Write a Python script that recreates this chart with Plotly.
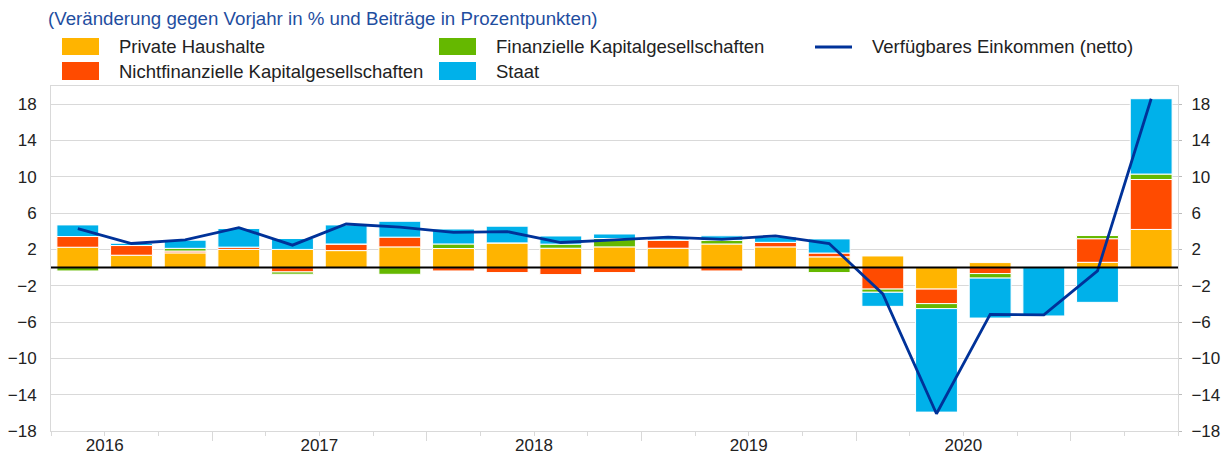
import plotly.graph_objects as go

# ---------------- data ----------------
quarters = ["2016Q2", "2016Q3", "2016Q4", "2017Q1", "2017Q2", "2017Q3", "2017Q4",
            "2018Q1", "2018Q2", "2018Q3", "2018Q4", "2019Q1", "2019Q2", "2019Q3",
            "2019Q4", "2020Q1", "2020Q2", "2020Q3", "2020Q4", "2021Q1", "2021Q2"]
years = [2016, 2017, 2018, 2019, 2020]
y_ticks = [-18, -14, -10, -6, -2, 2, 6, 10, 14, 18]

private_haushalte = [2.24, 1.36, 1.62, 2.0, 2.0, 1.87, 2.28, 2.1, 2.72, 2.13, 2.28,
                     2.13, 2.6, 2.28, 1.18, 1.28, -2.37, 0.55, 0.0, 0.58, 4.2]
nichtfin_kg = [1.18, 1.07, 0.2, 0.25, -0.48, 0.73, 1.07, -0.37, -0.55, -0.77, -0.55,
               0.9, -0.37, 0.5, 0.42, -2.37, -1.6, -0.66, 0.0, 2.6, 5.5]
finanz_kg = [-0.37, 0.0, 0.3, 0.0, -0.25, 0.0, -0.74, 0.5, 0.0, 0.45, 0.92,
             0.0, 0.4, 0.0, -0.55, -0.35, -0.55, -0.5, 0.12, 0.35, 0.6]
staat = [1.28, 0.25, 0.9, 2.05, 1.2, 2.1, 1.75, 1.65, 1.84, 0.9, 0.5,
         0.25, 0.5, 0.6, 1.56, -1.55, -11.4, -4.4, -5.33, -3.83, 8.3]
einkommen = [4.3, 2.65, 3.05, 4.4, 2.47, 4.8, 4.45, 3.88, 3.97, 2.76, 3.05,
             3.35, 3.1, 3.5, 2.65, -2.9, -16.1, -5.15, -5.2, -0.36, 18.6]

series = [
    ("Private Haushalte", private_haushalte, "#FFB400"),
    ("Nichtfinanzielle Kapitalgesellschaften", nichtfin_kg, "#FF4B00"),
    ("Finanzielle Kapitalgesellschaften", finanz_kg, "#65B800"),
    ("Staat", staat, "#00B1EA"),
]
line_name = "Verfügbares Einkommen (netto)"
line_color = "#003299"

FONT = "Liberation Sans, Arial, sans-serif"
GRID = "#d9d9d9"

# quarter index: 2016Q2 -> 0
def q_index(label):
    y, q = int(label[:4]), int(label[-1])
    return (y - 2016) * 4 + (q - 2)

xpos = [q_index(q) for q in quarters]

fig = go.Figure()
for name, vals, col in series:
    fig.add_trace(go.Bar(
        x=xpos, y=vals, name=name, marker_color=col,
        marker_line=dict(color="white", width=1), width=0.78,
        hovertext=quarters, showlegend=False,
    ))
fig.add_trace(go.Scatter(
    x=xpos, y=einkommen, name=line_name, mode="lines",
    line=dict(color=line_color, width=2.8), xaxis="x2", yaxis="y2",
    hovertext=quarters, showlegend=False,
))

# year ticks / boundaries
year_centers = [(y - 2016) * 4 + 0.5 for y in years]
boundaries = [i - 0.5 for i in range(len(quarters) + 1)]
year_bounds = [b for b in boundaries if (b - 2.5) % 4 == 0]
tick_text = []
for b in boundaries:
    lab = ""
    for y, c in zip(years, year_centers):
        if abs(b - c) < 1e-9:
            lab = str(y)
    tick_text.append(lab)

W, H = 1226, 457
PL, PR, PT, PB = 51, 1178, 86, 431
yr = [-18, 20]
xr = [-0.5, len(quarters) - 0.5]

def px(x):
    return (x - PL) / (PR - PL)

def py(y):
    return (PB - y) / (PB - PT)

fig.update_layout(
    width=W, height=H,
    margin=dict(l=PL, r=W - PR, t=PT, b=H - PB, autoexpand=False),
    barmode="relative", bargap=0.2,
    plot_bgcolor="white", paper_bgcolor="white",
    font=dict(family=FONT, size=17, color="#222222"),
    xaxis=dict(
        range=xr, tickmode="array",
        tickvals=boundaries, ticktext=tick_text,
        ticks="outside", ticklen=4, tickcolor=GRID, tickwidth=1,
        showgrid=False, zeroline=False,
        showline=True, linecolor=GRID, linewidth=1, mirror=True,
        tickfont=dict(size=17, color="#222222"), automargin=False,
        ticklabelstandoff=-5,
    ),
    xaxis2=dict(
        range=xr, overlaying="x", side="bottom", tickmode="array",
        tickvals=year_bounds, ticktext=["" for _ in year_bounds],
        ticks="outside", ticklen=9, tickcolor=GRID, tickwidth=1,
        showgrid=False, zeroline=False, showline=False, automargin=False,
    ),
    yaxis=dict(
        range=yr, tickmode="array", tickvals=y_ticks,
        showgrid=True, gridcolor=GRID, gridwidth=1,
        zeroline=False, showline=True, linecolor=GRID, linewidth=1, mirror=True,
        ticks="", ticklabelstandoff=10,
        tickfont=dict(size=17, color="#222222"), automargin=False,
    ),
    yaxis2=dict(
        range=yr, tickmode="array", tickvals=y_ticks, overlaying="y", side="right",
        showgrid=False, zeroline=False, showline=False,
        ticks="outside", ticklen=3, tickcolor="#bbbbbb", ticklabelstandoff=6,
        tickfont=dict(size=17, color="#222222"), automargin=False,
    ),
)

# zero line above bars
fig.add_shape(type="line", xref="paper", yref="y", x0=0, x1=1, y0=0, y1=0,
              line=dict(color="black", width=2), layer="above")

# title
fig.add_annotation(
    text="(Veränderung gegen Vorjahr in % und Beiträge in Prozentpunkten)",
    xref="paper", yref="paper", x=px(46), y=py(18), xanchor="left", yanchor="middle",
    showarrow=False, font=dict(family=FONT, size=18.7, color="#1f4e9f"),
)

# manual legend
legend_items = [
    (0, 0, series[0][0], series[0][2]),
    (0, 1, series[1][0], series[1][2]),
    (1, 0, series[2][0], series[2][2]),
    (1, 1, series[3][0], series[3][2]),
]
col_x = [62, 439]
row_y = [(38, 55), (62, 80)]
for c, r, name, col in legend_items:
    x0 = col_x[c]
    y0, y1 = row_y[r]
    fig.add_shape(type="rect", xref="paper", yref="paper",
                  x0=px(x0), x1=px(x0 + 37), y0=py(y1), y1=py(y0),
                  fillcolor=col, line=dict(width=0))
    fig.add_annotation(text=name, xref="paper", yref="paper",
                       x=px(x0 + 55), y=py((y0 + y1) / 2), xanchor="left", yanchor="middle",
                       showarrow=False, font=dict(family=FONT, size=18.5, color="#222222"))
fig.add_shape(type="line", xref="paper", yref="paper",
              x0=px(815), x1=px(852), y0=py(47), y1=py(47),
              line=dict(color=line_color, width=3))
fig.add_annotation(text=line_name, xref="paper", yref="paper",
                   x=px(870), y=py(47), xanchor="left", yanchor="middle",
                   showarrow=False, font=dict(family=FONT, size=18.5, color="#222222"))

fig.write_html("out.html", config={"displayModeBar": False},
               post_script="document.body.style.margin='0';document.body.style.padding='0';")
